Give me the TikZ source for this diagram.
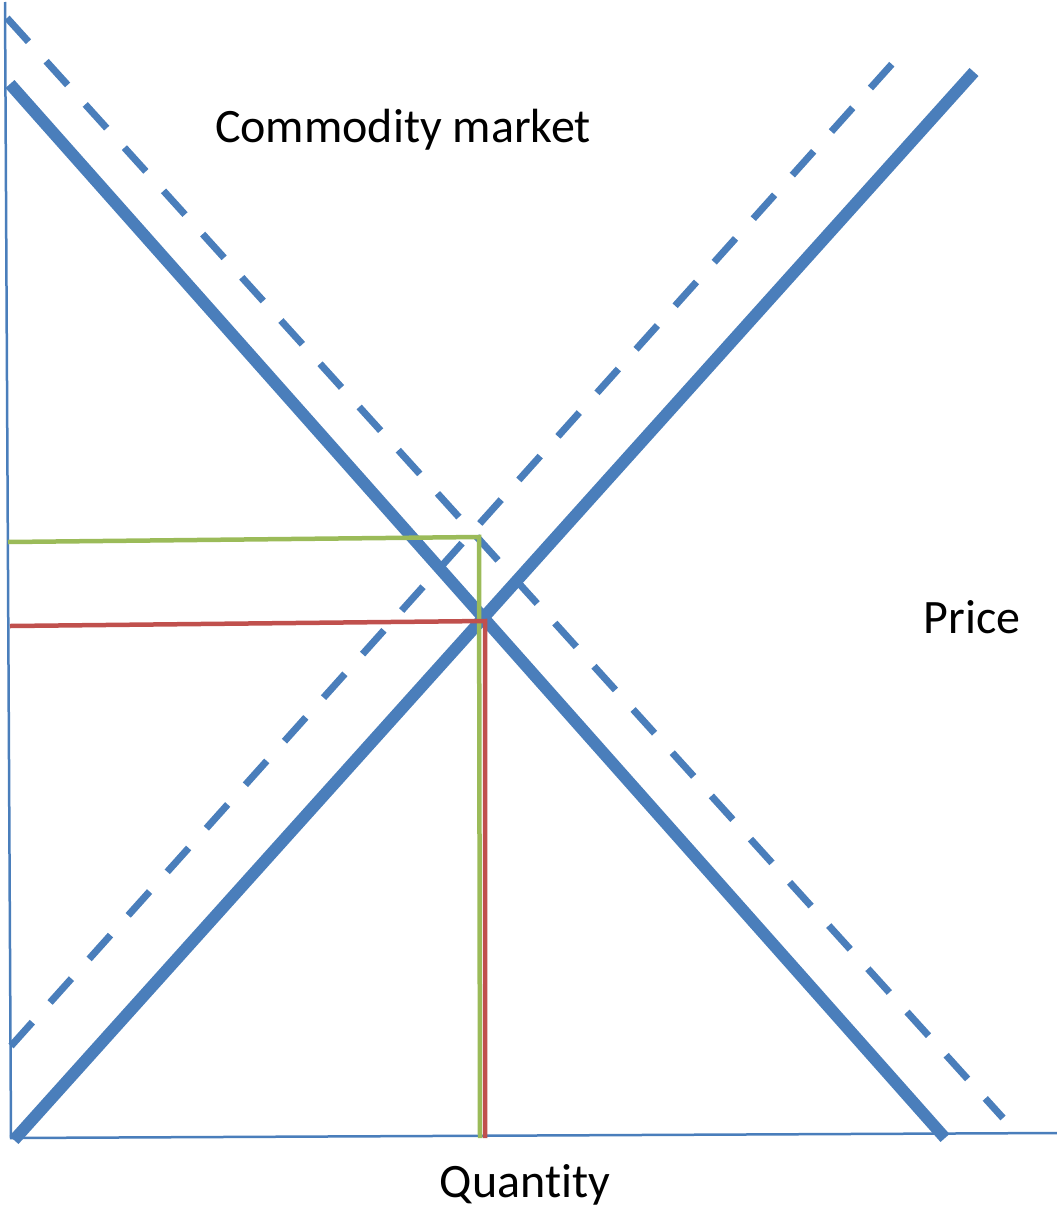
\documentclass[tikz,border=0pt]{standalone}
\usepackage{fontspec}
\setmainfont[Ligatures=NoCommon]{Carlito}
\definecolor{lineblue}{HTML}{4A7EBB}
\definecolor{linegreen}{HTML}{9BBB59}
\definecolor{linered}{HTML}{C0504D}
\begin{document}
\begin{tikzpicture}[x=1pt,y=-1pt,
  axisline/.style={draw=lineblue,line width=2.5pt},
  curvesolid/.style={draw=lineblue,line width=12pt},
  curvedash/.style={draw=lineblue,line width=7pt,dash pattern=on 32pt off 26.3pt},
  greenline/.style={draw=linegreen,line width=4.5pt},
  redline/.style={draw=linered,line width=4.5pt},
  lbl/.style={font=\fontsize{48}{52}\selectfont,inner sep=0pt}]
\useasboundingbox (0,0) rectangle (1057,1210);
% axes
\coordinate (ytop) at (5,2);
\coordinate (origin) at (11,1138);
\coordinate (xend) at (1057,1133);
\draw[axisline] (ytop) -- (origin) -- (xend);
% demand (solid) and shifted demand (dashed)
\coordinate (d1) at (10,84);
\coordinate (d2) at (945,1138);
\draw[curvesolid] (d1) -- (d2);
\coordinate (dd1) at (7,18);
\coordinate (dd2) at (1003,1118);
\draw[curvedash] (dd1) -- (dd2);
% supply (solid) and shifted supply (dashed)
\coordinate (s1) at (14,1140);
\coordinate (s2) at (974,72);
\draw[curvesolid] (s1) -- (s2);
\coordinate (ds1) at (11,1046);
\coordinate (ds2) at (892,64);
\draw[curvedash,dash pattern=on 32pt off 26.5pt] (ds1) -- (ds2);
% green equilibrium lines
\coordinate (g0) at (8,542);
\coordinate (g1) at (479,537);
\coordinate (g2) at (480,1138);
\draw[greenline] (g0) -- (g1) -- (g2);
% red equilibrium lines
\coordinate (r0) at (10,626);
\coordinate (r1) at (485,621);
\coordinate (r2) at (485,1138);
\draw[redline] (r0) -- (r1) -- (r2);
% labels
\node[lbl] (title) at (403,130) {Commodity market};
\node[lbl] (price) at (972,617) {Price};
\node[lbl] (qty) at (525,1185) {Quantity};
\end{tikzpicture}
\end{document}
